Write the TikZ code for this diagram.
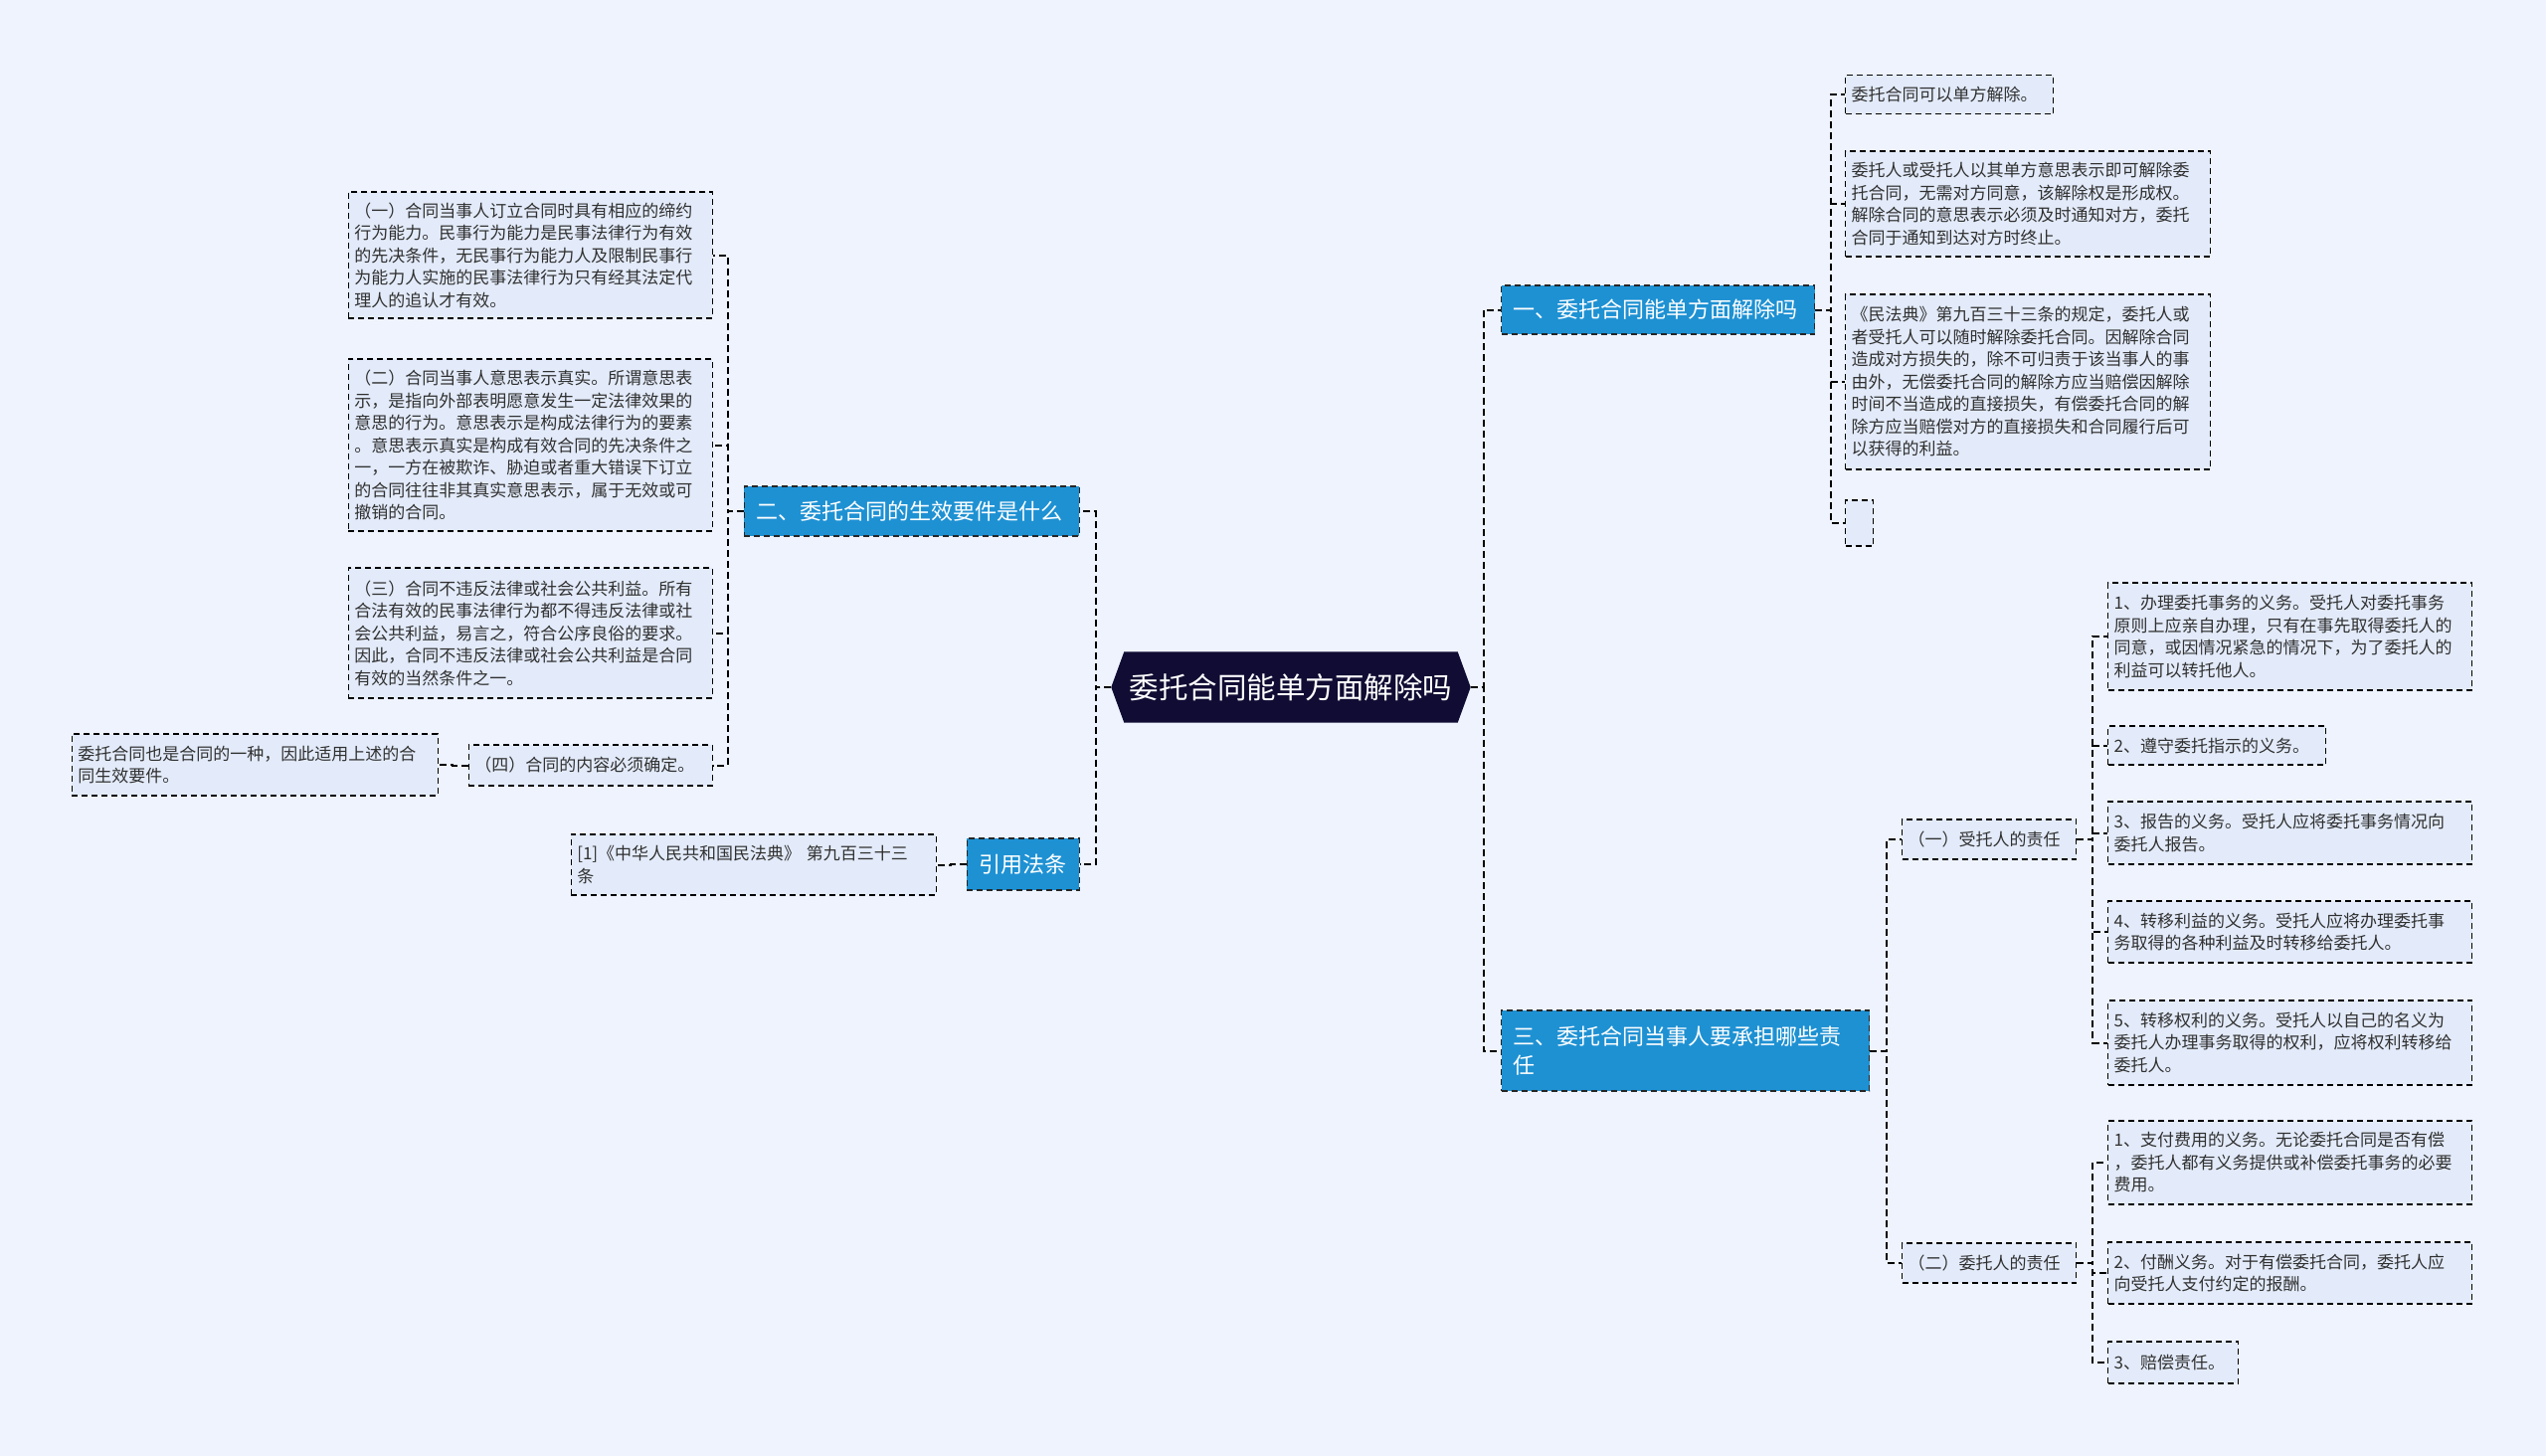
\documentclass[tikz,border=0pt]{standalone}
\usepackage{fontspec}
\setmainfont{Noto Sans CJK SC}
\usetikzlibrary{backgrounds}
\definecolor{bgc}{HTML}{EEF3FE}
\definecolor{leafc}{HTML}{E3EBFA}
\definecolor{bluec}{HTML}{1E91D3}
\definecolor{rootc}{HTML}{100C33}
\definecolor{txtc}{HTML}{303030}
\tikzset{
  leaf/.style  ={rectangle, draw=black, dash pattern=on 6pt off 4pt, line width=1.4pt, fill=leafc, text=txtc, align=left, inner xsep=6pt, inner ysep=6pt, font=\fontsize{17}{22.5}\selectfont},
  branch/.style={rectangle, draw=black!85, dash pattern=on 6pt off 4pt, line width=1.4pt, fill=bluec, text=white, align=left, inner xsep=12pt, inner ysep=6pt, font=\fontsize{22}{29}\selectfont},
  rootbox/.style={rectangle, text=white, inner sep=0pt, font=\fontsize{29.5}{34}\selectfont},
  link/.style  ={draw=black, line width=2pt, dash pattern=on 7pt off 4pt},
}

\begin{document}
\begin{tikzpicture}[x=1pt,y=-1pt]
\begin{scope}[on background layer]
\fill[bgc] (0,0) rectangle (2560,1464);
\end{scope}
\useasboundingbox (0,0) rectangle (2560,1464);
% root
\node[rootbox, minimum width=361pt, minimum height=71pt] (root) at (1298,691) {委托合同能单方面解除吗};
\begin{scope}[on background layer]
\fill[rootc] ([xshift=13pt]root.north west) -- ([xshift=-13pt]root.north east) -- (root.east)
  -- ([xshift=-13pt]root.south east) -- ([xshift=13pt]root.south west) -- (root.west) -- cycle;
\end{scope}
% branches
\node[branch, text width=291pt, minimum height=49pt, anchor=west] (b1) at (1509,311.5) {一、委托合同能单方面解除吗};
\node[branch, text width=346pt, minimum height=81pt, anchor=west] (b3) at (1509,1056.5) {三、委托合同当事人要承担哪些责\\任};
\node[branch, text width=313pt, minimum height=50pt, anchor=east] (b2) at (1086,514) {二、委托合同的生效要件是什么};
\node[branch, text width=89pt, minimum height=52pt, anchor=east] (law) at (1086,869) {引用法条};
% leaves of b1
\node[leaf, text width=197pt, minimum height=39pt, anchor=west] (l1a) at (1855,95) {委托合同可以单方解除。};
\node[leaf, text width=355pt, minimum height=106pt, anchor=west] (l1b) at (1855,205) {委托人或受托人以其单方意思表示即可解除委\\托合同，无需对方同意，该解除权是形成权。\\解除合同的意思表示必须及时通知对方，委托\\合同于通知到达对方时终止。};
\node[leaf, text width=355pt, minimum height=176pt, anchor=west] (l1c) at (1855,384) {《民法典》第九百三十三条的规定，委托人或\\者受托人可以随时解除委托合同。因解除合同\\造成对方损失的，除不可归责于该当事人的事\\由外，无偿委托合同的解除方应当赔偿因解除\\时间不当造成的直接损失，有偿委托合同的解\\除方应当赔偿对方的直接损失和合同履行后可\\以获得的利益。};
\node[leaf, text width=16pt, minimum height=46pt, anchor=west] (l1d) at (1855,526) {};
% b3 sub items
\node[leaf, text width=163pt, minimum height=40pt, anchor=west] (s1) at (1912,844) {（一）受托人的责任};
\node[leaf, text width=163pt, minimum height=40pt, anchor=west] (s2) at (1912,1270) {（二）委托人的责任};
\node[leaf, text width=354pt, minimum height=108pt, anchor=west] (t1) at (2119,640) {1、办理委托事务的义务。受托人对委托事务\\原则上应亲自办理，只有在事先取得委托人的\\同意，或因情况紧急的情况下，为了委托人的\\利益可以转托他人。};
\node[leaf, text width=207pt, minimum height=39pt, anchor=west] (t2) at (2119,749.5) {2、遵守委托指示的义务。};
\node[leaf, text width=354pt, minimum height=63pt, anchor=west] (t3) at (2119,837.5) {3、报告的义务。受托人应将委托事务情况向\\委托人报告。};
\node[leaf, text width=354pt, minimum height=62pt, anchor=west] (t4) at (2119,937) {4、转移利益的义务。受托人应将办理委托事\\务取得的各种利益及时转移给委托人。};
\node[leaf, text width=354pt, minimum height=85pt, anchor=west] (t5) at (2119,1048.5) {5、转移权利的义务。受托人以自己的名义为\\委托人办理事务取得的权利，应将权利转移给\\委托人。};
\node[leaf, text width=354pt, minimum height=84pt, anchor=west] (u1) at (2119,1169) {1、支付费用的义务。无论委托合同是否有偿\\，委托人都有义务提供或补偿委托事务的必要\\费用。};
\node[leaf, text width=354pt, minimum height=62pt, anchor=west] (u2) at (2119,1280) {2、付酬义务。对于有偿委托合同，委托人应\\向受托人支付约定的报酬。};
\node[leaf, text width=119pt, minimum height=42pt, anchor=west] (u3) at (2119,1370) {3、赔偿责任。};
% leaves of b2
\node[leaf, text width=354pt, minimum height=127pt, anchor=east] (c1) at (717,256.5) {（一）合同当事人订立合同时具有相应的缔约\\行为能力。民事行为能力是民事法律行为有效\\的先决条件，无民事行为能力人及限制民事行\\为能力人实施的民事法律行为只有经其法定代\\理人的追认才有效。};
\node[leaf, text width=354pt, minimum height=173pt, anchor=east] (c2) at (717,447.5) {（二）合同当事人意思表示真实。所谓意思表\\示，是指向外部表明愿意发生一定法律效果的\\意思的行为。意思表示是构成法律行为的要素\\。意思表示真实是构成有效合同的先决条件之\\一，一方在被欺诈、胁迫或者重大错误下订立\\的合同往往非其真实意思表示，属于无效或可\\撤销的合同。};
\node[leaf, text width=354pt, minimum height=131pt, anchor=east] (c3) at (717,636.5) {（三）合同不违反法律或社会公共利益。所有\\合法有效的民事法律行为都不得违反法律或社\\会公共利益，易言之，符合公序良俗的要求。\\因此，合同不违反法律或社会公共利益是合同\\有效的当然条件之一。};
\node[leaf, text width=233pt, minimum height=41pt, anchor=east] (c4) at (717,769.5) {（四）合同的内容必须确定。};
\node[leaf, text width=356pt, minimum height=62pt, anchor=east] (c5) at (441,769) {委托合同也是合同的一种，因此适用上述的合\\同生效要件。};
\node[leaf, text width=355pt, minimum height=61pt, anchor=east] (r1) at (942,869.5) {[1]《中华人民共和国民法典》 第九百三十三\\条};
% connectors
\foreach \b in {b1,b3} \draw[link] (root.east) -- ++(13,0) |- (\b.west);
\foreach \b in {b2,law} \draw[link] (root.west) -- ++(-15.5,0) |- (\b.east);
\foreach \l in {l1a,l1b,l1c,l1d} \draw[link] (b1.east) -- ++(15.5,0) |- (\l.west);
\foreach \s in {s1,s2} \draw[link] (b3.east) -- ++(16.5,0) |- (\s.west);
\foreach \t in {t1,t2,t3,t4,t5} \draw[link] (s1.east) -- ++(16,0) |- (\t.west);
\foreach \u in {u1,u2,u3} \draw[link] (s2.east) -- ++(16,0) |- (\u.west);
\foreach \c in {c1,c2,c3,c4} \draw[link] (b2.west) -- ++(-16,0) |- (\c.east);
\draw[link] (c4.west) -- ++(-15.5,0) |- (c5.east);
\draw[link] (law.west) -- ++(-15.5,0) |- (r1.east);
\end{tikzpicture}
\end{document}
